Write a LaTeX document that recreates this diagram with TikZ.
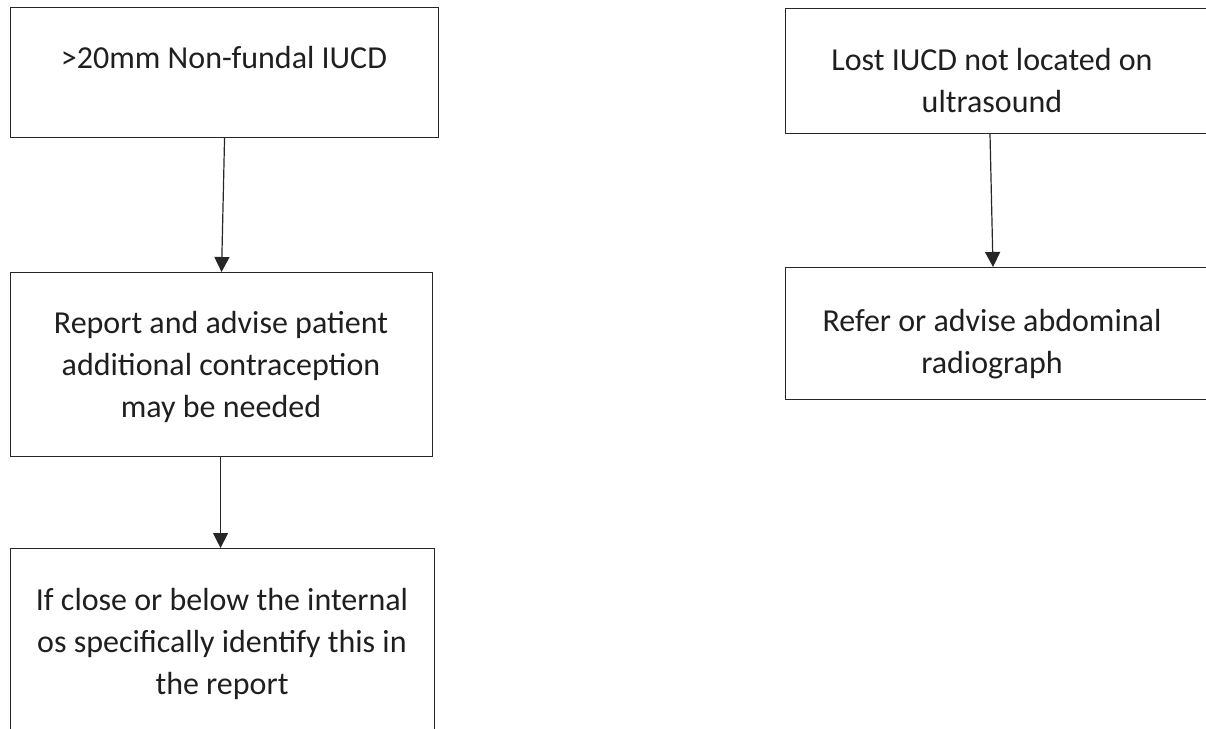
\documentclass[tikz,border=0pt]{standalone}
\usepackage{fontspec}
\setmainfont{Carlito}
\usetikzlibrary{arrows.meta}
\tikzset{
  box/.style={draw=black!85, line width=1.1pt, rectangle, inner sep=0pt, anchor=north west},
  txt/.style={text=black!88, align=center, inner sep=0pt, anchor=base, font=\fontsize{32pt}{42pt}\selectfont},
  conn/.style={draw=black!85, line width=1.2pt, -{Triangle[width=15pt,length=15pt]}}
}
\begin{document}
\begin{tikzpicture}[x=1pt,y=-1pt]
\useasboundingbox (0,0) rectangle (1206,728);
\clip (0,0) rectangle (1206,728);
% left column
\node[box, minimum width=428pt, minimum height=130pt] (A) at (10,7) {};
\node[txt] (At) at (224,68) {>20mm Non-fundal IUCD};
\node[box, minimum width=422pt, minimum height=184pt] (B) at (10,272) {};
\node[txt] (Bt) at (221,417) {Report and advise patient\\additional contraception\\may be needed};
\node[box, minimum width=424pt, minimum height=220pt] (C) at (10,548) {};
\node[txt] (Ct) at (222,694) {If close or below the internal\\os specifically identify this in\\the report};
% right column
\node[box, minimum width=440pt, minimum height=125pt] (D) at (785,8) {};
\node[txt] (Dt) at (992,112) {Lost IUCD not located on\\ultrasound};
\node[box, minimum width=440pt, minimum height=132pt] (E) at (785,267) {};
\node[txt] (Et) at (992,373) {Refer or advise abdominal\\radiograph};
% connectors
\draw[conn] (A.south) -- (B.north);
\draw[conn] ([xshift=-1pt]B.south) -- ([xshift=-1pt]B.south |- C.north);
\draw[conn] ([xshift=205pt]D.south west) -- ([xshift=208pt]E.north west);
\end{tikzpicture}
\end{document}
